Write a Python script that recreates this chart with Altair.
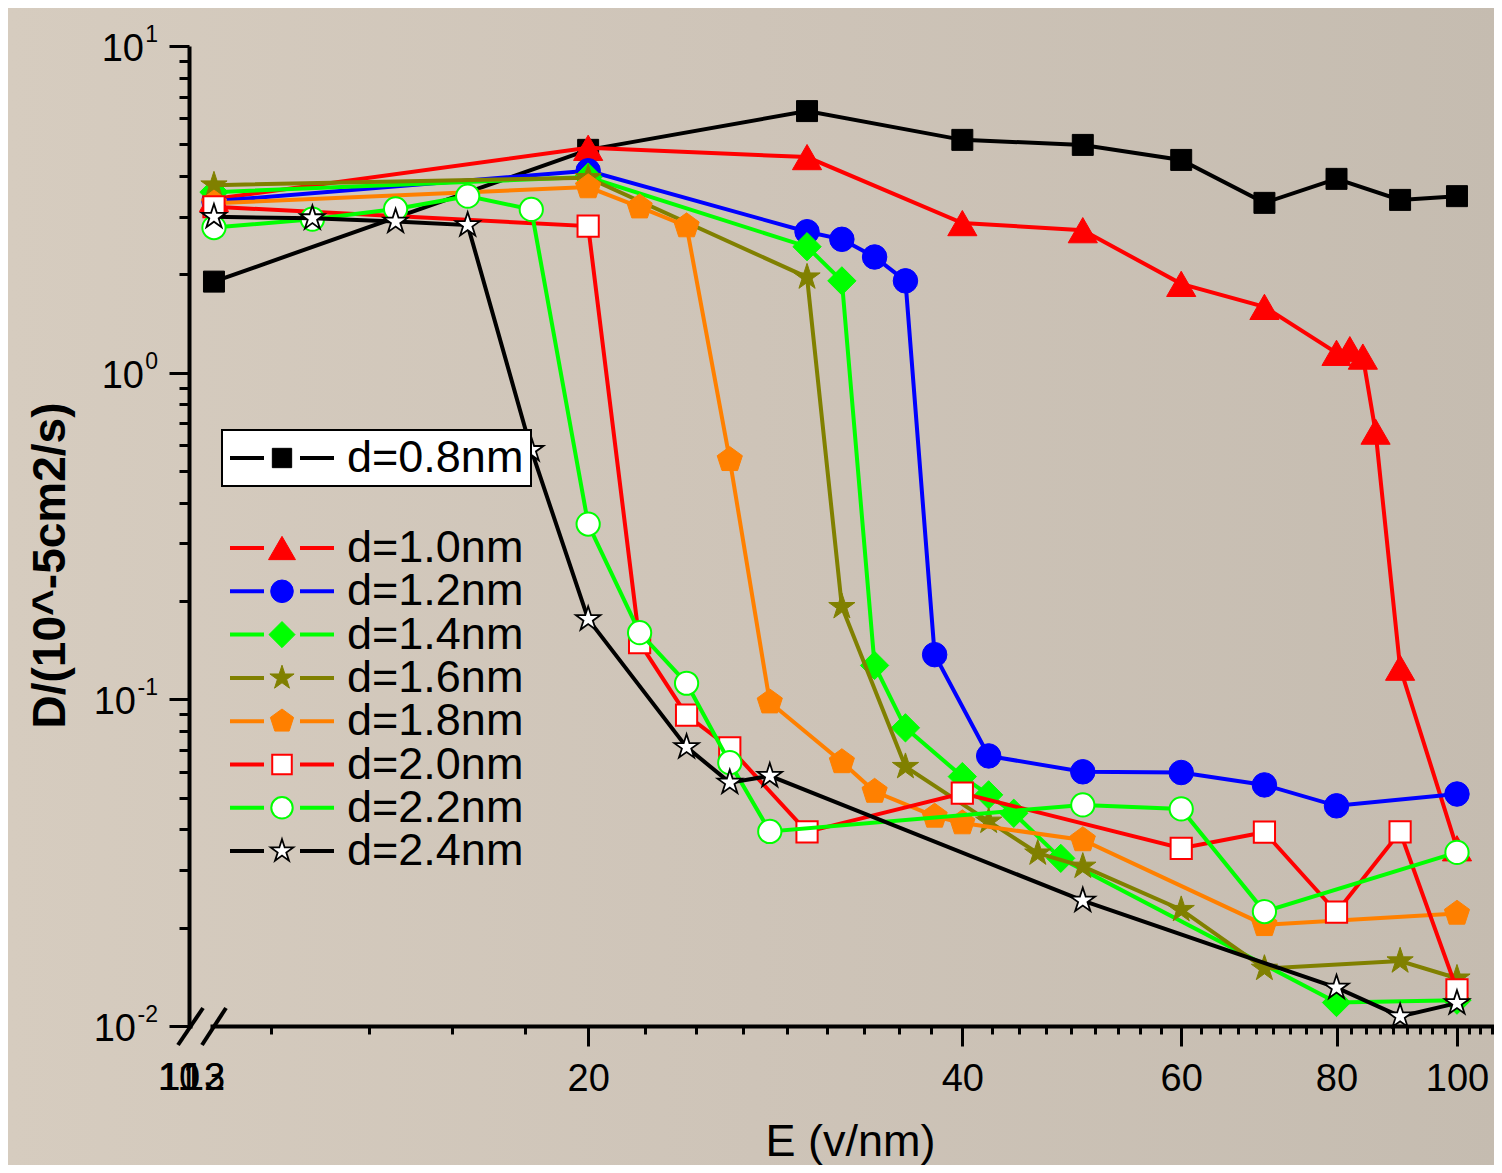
import altair as alt
import pandas as pd

# ---------------- data ----------------
labels = ["d=0.8nm", "d=1.0nm", "d=1.2nm", "d=1.4nm", "d=1.6nm",
          "d=1.8nm", "d=2.0nm", "d=2.2nm", "d=2.4nm"]

e_08 = [10, 20, 30, 40, 50, 60, 70, 80, 90, 100]
d_08 = [1.90, 4.81, 6.32, 5.16, 4.98, 4.48, 3.31, 3.92, 3.38, 3.47]

e_10 = [10, 20, 30, 40, 50, 60, 70, 80, 82, 84, 86, 90, 100]
d_10 = [3.40, 4.88, 4.57, 2.87, 2.73, 1.87, 1.59, 1.15, 1.18, 1.12, 0.66, 0.125, 0.035]

e_12 = [10, 20, 30, 32, 34, 36, 38, 42, 50, 60, 70, 80, 100]
d_12 = [3.35, 4.15, 2.70, 2.56, 2.26, 1.91, 0.137, 0.0671, 0.060, 0.0597, 0.0547, 0.0472, 0.0513]

e_14 = [10, 20, 30, 32, 34, 36, 40, 42, 44, 48, 80, 100]
d_14 = [3.57, 3.97, 2.43, 1.91, 0.127, 0.0818, 0.058, 0.051, 0.0448, 0.0326, 0.0118, 0.0120]

e_16 = [10, 20, 30, 32, 36, 42, 46, 50, 60, 70, 90, 100]
d_16 = [3.75, 3.95, 1.96, 0.192, 0.0622, 0.0423, 0.0338, 0.0308, 0.0227, 0.0150, 0.0158, 0.0140]

e_18 = [10, 20, 22, 24, 26, 28, 32, 34, 38, 40, 50, 70, 100]
d_18 = [3.30, 3.70, 3.21, 2.81, 0.541, 0.098, 0.0643, 0.0522, 0.0438, 0.0418, 0.0371, 0.0204, 0.0221]

e_20 = [10, 20, 22, 24, 26, 30, 40, 60, 70, 80, 90, 100]
d_20 = [3.22, 2.81, 0.149, 0.0895, 0.071, 0.0393, 0.0516, 0.035, 0.0392, 0.0223, 0.0393, 0.0129]

e_22 = [10, 12, 14, 16, 18, 20, 22, 24, 26, 28, 50, 60, 70, 100]
d_22 = [2.78, 2.95, 3.17, 3.47, 3.16, 0.344, 0.160, 0.112, 0.064, 0.0394, 0.0475, 0.0462, 0.0224, 0.034]

e_24 = [10, 12, 14, 16, 18, 20, 24, 26, 28, 50, 80, 90, 100]
d_24 = [3.00, 2.97, 2.90, 2.83, 0.58, 0.176, 0.0714, 0.0556, 0.0583, 0.0242, 0.0131, 0.0107, 0.01175]

x_major = [20, 40, 60, 80, 100]
y_major = [0.01, 0.1, 1, 10]
y_exp = ["-2", "-1", "0", "1"]
break_labels = ["10", "11", "12", "13"]

series_e = [e_08, e_10, e_12, e_14, e_16, e_18, e_20, e_22, e_24]
series_d = [d_08, d_10, d_12, d_14, d_16, d_18, d_20, d_22, d_24]

# ---------------- styles ----------------
STAR = ("M0,-1 L0.2245,-0.309 L0.9511,-0.309 L0.3633,0.118 L0.5878,0.809 "
        "L0,0.382 L-0.5878,0.809 L-0.3633,0.118 L-0.9511,-0.309 L-0.2245,-0.309 Z")
PENT = "M0,-1 L0.9511,-0.309 L0.5878,0.809 L-0.5878,0.809 L-0.9511,-0.309 Z"

colors = ["#000000", "#ff0000", "#0000ff", "#00ff00", "#808000",
          "#ff8000", "#ff0000", "#00ff00", "#000000"]
shapes = ["square", "triangle-up", "circle", "diamond", STAR, PENT,
          "square", "circle", STAR]
fills = ["#000000", "#ff0000", "#0000ff", "#00ff00", "#808000",
         "#ff8000", "#ffffff", "#ffffff", "#ffffff"]
sizes = [440, 850, 600, 800, 760, 700, 450, 540, 660]
swidths = [1, 1, 1, 1, 1, 1, 2, 2, 1.8]

FONT = "Liberation Sans"
BG = "#cec4b7"
BG_GRAD = {"gradient": "linear", "x1": 0, "y1": 0, "x2": 1, "y2": 0,
           "stops": [{"offset": 0, "color": "#d6ccbf"},
                     {"offset": 0.5, "color": "#cec4b8"},
                     {"offset": 1, "color": "#c5bcb0"}]}

xs = alt.Scale(type="log", domain=[9.548, 107.1], nice=False)
ys = alt.Scale(type="log", domain=[0.01, 10], nice=False)

frames = []
for lab, e, d in zip(labels, series_e, series_d):
    frames.append(pd.DataFrame({"series": lab, "E": e, "D": d}))
all_df = pd.concat(frames, ignore_index=True)

# minor tick positions (Origin style: 8 minor ticks between majors of 20)
x_minor = [20 / 9 * k for k in range(5, 49) if k % 9 != 0]
y_minor = [m * 10 ** p for p in (-2, -1, 0) for m in range(2, 10)]

one = pd.DataFrame({"k": [0]})
layers = []

# page background gradient (behind everything)
layers.append(alt.Chart(one).mark_rect(fill=BG_GRAD).encode(
    x=alt.value(-181), x2=alt.value(1313), y=alt.value(-38), y2=alt.value(1119)))

AX = dict(domainColor="black", domainWidth=4, tickColor="black", tickWidth=3,
          labelColor="black", labelFont=FONT, titleFont=FONT,
          titleColor="black", grid=False, zindex=2)

# axis carrier layers
major = alt.Chart(all_df).mark_point(opacity=0).encode(
    x=alt.X("E:Q", scale=xs, axis=alt.Axis(
        orient="bottom", values=x_major, format="d", tickSize=20,
        labelPadding=44, labelBaseline="alphabetic", labelFontSize=38,
        labelFlush=False, labelOverlap=False, domainDash=[3, 18, 3000],
        title="E (v/nm)", titleFontSize=45, titleFontWeight="normal",
        titleX=661, titleY=129, titleBaseline="alphabetic", titleAlign="center",
        **AX)),
    y=alt.Y("D:Q", scale=ys, axis=alt.Axis(
        orient="left", values=y_major, tickSize=20, labels=False,
        title="D/(10^-5cm2/s)", titleFontSize=46, titleFontWeight="bold",
        titleAngle=270, titleX=-139, titleY=519, titleAlign="center",
        titleBaseline="middle", **AX)),
)
minor = alt.Chart(all_df).mark_point(opacity=0).encode(
    x=alt.X("E:Q", scale=xs, axis=alt.Axis(
        orient="bottom", values=x_minor, tickSize=8, labels=False,
        domain=False, title="", **AX)),
    y=alt.Y("D:Q", scale=ys, axis=alt.Axis(
        orient="left", values=y_minor, tickSize=10, labels=False,
        domain=False, title="", **AX)),
)
layers += [major, minor]

# series
for i in range(9):
    df = frames[i]
    base = alt.Chart(df).encode(
        x=alt.X("E:Q", scale=xs, axis=None),
        y=alt.Y("D:Q", scale=ys, axis=None),
    )
    layers.append(base.mark_line(color=colors[i], strokeWidth=4))
    layers.append(base.mark_point(
        shape=shapes[i], size=sizes[i], filled=True, fill=fills[i],
        stroke=colors[i], strokeWidth=swidths[i], opacity=1))

# y tick labels 10^k as base + superscript
ylab = pd.DataFrame({"v": y_major, "e": y_exp})
ylab_base = alt.Chart(ylab).transform_calculate(
    bx="indexof(datum.e, '-') >= 0 ? -53 : -45"
).mark_text(align="right", baseline="alphabetic", dy=15, fontSize=38,
            font=FONT, color="black").encode(
    x=alt.X("bx:Q", scale=None),
    y=alt.Y("v:Q", scale=ys, axis=None),
    text=alt.value("10"),
)
ylab_exp = alt.Chart(ylab).mark_text(
    align="right", baseline="alphabetic", dy=-4, fontSize=23,
    font=FONT, color="black").encode(
    x=alt.value(-31),
    y=alt.Y("v:Q", scale=ys, axis=None),
    text="e:N",
)
layers += [ylab_base, ylab_exp]

# axis-break decoration and overlapping break labels
layers.append(alt.Chart(one).mark_rule(color="black", strokeWidth=4).encode(
    x=alt.value(-11), x2=alt.value(14), y=alt.value(999), y2=alt.value(962)))
layers.append(alt.Chart(one).mark_rule(color="black", strokeWidth=4).encode(
    x=alt.value(13), x2=alt.value(37), y=alt.value(999), y2=alt.value(962)))
brk = pd.DataFrame({"t": break_labels, "bx": [-10, -10, 15, 15]})
layers.append(alt.Chart(brk).mark_text(
    align="center", baseline="alphabetic", fontSize=38, font=FONT,
    color="black").encode(
    x=alt.X("bx:Q", scale=None), y=alt.value(1044), text="t:N"))

# legend
row_y = [412] + [502 + 43.3 * k for k in range(8)]
layers.append(alt.Chart(one).mark_rect(fill="white", stroke="black", strokeWidth=2).encode(
    x=alt.value(33), x2=alt.value(342), y=alt.value(384), y2=alt.value(440)))
for i in range(9):
    yy = row_y[i]
    lab = pd.DataFrame({"t": [labels[i]]})
    layers.append(alt.Chart(lab).mark_rule(color=colors[i], strokeWidth=4).encode(
        x=alt.value(41), x2=alt.value(75), y=alt.value(yy)))
    layers.append(alt.Chart(lab).mark_rule(color=colors[i], strokeWidth=4).encode(
        x=alt.value(111), x2=alt.value(145), y=alt.value(yy)))
    layers.append(alt.Chart(lab).mark_point(
        shape=shapes[i], size=sizes[i] * 0.85, filled=True, fill=fills[i],
        stroke=colors[i], strokeWidth=swidths[i], opacity=1).encode(
        x=alt.value(93), y=alt.value(yy)))
    layers.append(alt.Chart(lab).mark_text(
        align="left", baseline="middle", fontSize=45, font=FONT,
        color="black").encode(x=alt.value(158), y=alt.value(yy), text="t:N"))

chart = alt.layer(*layers).resolve_axis(
    x="independent", y="independent"
).properties(
    width=1305, height=980,
    autosize=alt.AutoSizeParams(type="none"),
    padding={"left": 181, "top": 38, "right": 0, "bottom": 139},
    background=BG,
).configure_view(
    strokeOpacity=0
)

chart.save("out.html", embed_options={"renderer": "svg", "actions": False})
